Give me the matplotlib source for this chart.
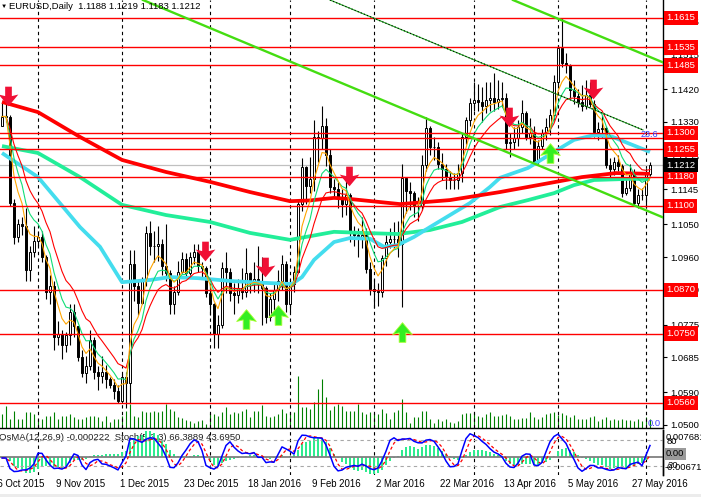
import numpy as np
import pandas as pd
import matplotlib
matplotlib.use("Agg")
import matplotlib.pyplot as plt
from matplotlib.path import Path
from matplotlib.patches import Rectangle

plt.rcParams['font.family'] = ['Liberation Sans', 'DejaVu Sans']

# EURUSD daily bars, 20 Oct 2015 .. 2 Jun 2016 (one value per bar)
first_open = 1.1320
closes = [
    1.1345, 1.1345, 1.1108, 1.1015, 1.1050, 1.1045, 1.0925, 1.0975, 1.1005, 1.1015,
    1.0960, 1.0865, 1.0880, 1.0740, 1.0750, 1.0720, 1.0745, 1.0810, 1.0770, 1.0685,
    1.0642, 1.0660, 1.0733, 1.0645, 1.0633, 1.0645, 1.0625, 1.0610, 1.0593, 1.0565,
    1.0630, 1.0615, 1.0940, 1.0880, 1.0835, 1.0895, 1.1025, 1.0990, 1.0990, 1.0995,
    1.0935, 1.0915, 1.0830, 1.0865, 1.0920, 1.0955, 1.0915, 1.0960, 1.0975, 1.0935,
    1.0930, 1.0860, 1.0830, 1.0750, 1.0775, 1.0930, 1.0920, 1.0860, 1.0855, 1.0875,
    1.0865, 1.0915, 1.0890, 1.0900, 1.0885, 1.0875, 1.0795, 1.0845, 1.0870, 1.0895,
    1.0940, 1.0832, 1.0885, 1.0920, 1.1105, 1.1207, 1.1155, 1.1175, 1.1290, 1.1285,
    1.1320, 1.1240, 1.1152, 1.1145, 1.1125, 1.1105, 1.1130, 1.1025, 1.1020, 1.1015,
    1.1020, 1.0928, 1.0872, 1.0868, 1.0865, 1.0957, 1.1000, 1.1010, 1.1008, 1.0997,
    1.1177, 1.1140, 1.1135, 1.1100, 1.1100, 1.1212, 1.1314, 1.1262, 1.1262, 1.1215,
    1.1200, 1.1180, 1.1170, 1.1170, 1.1190, 1.1289, 1.1335, 1.1382, 1.1390, 1.1385,
    1.1375, 1.1390, 1.1395, 1.1385, 1.1392, 1.1395, 1.1272, 1.1275, 1.1285, 1.1317,
    1.1355, 1.1289, 1.1300, 1.1220, 1.1265, 1.1300, 1.1315, 1.1349, 1.1440, 1.1533,
    1.1492, 1.1485, 1.1418, 1.1400, 1.1385, 1.1375, 1.1405, 1.1380, 1.1303, 1.1310,
    1.1313, 1.1212, 1.1200, 1.1220, 1.1210, 1.1135, 1.1150, 1.1190, 1.1108, 1.1130,
    1.1130, 1.1188, 1.1212,
]
highs = [
    1.1385, 1.1380, 1.1350, 1.1120, 1.1065, 1.1070, 1.1095, 1.0990, 1.1045, 1.1030,
    1.1030, 1.0965, 1.0910, 1.0895, 1.0785, 1.0760, 1.0755, 1.0830, 1.0830, 1.0715,
    1.0705, 1.0690, 1.0760, 1.0740, 1.0660, 1.0690, 1.0665, 1.0630, 1.0625, 1.0610,
    1.0640, 1.0645, 1.0980, 1.0980, 1.0895, 1.0905, 1.1045, 1.1060, 1.1030, 1.1045,
    1.1010, 1.1050, 1.0925, 1.0880, 1.0950, 1.0975, 1.0970, 1.0975, 1.0995, 1.0995,
    1.0945, 1.0935, 1.0890, 1.0835, 1.0800, 1.0945, 1.0975, 1.0930, 1.0890, 1.0900,
    1.0930, 1.0985, 1.0920, 1.0945, 1.0990, 1.0960, 1.0880, 1.0860, 1.0890, 1.0925,
    1.0965, 1.0950, 1.0900, 1.0935, 1.1115, 1.1230, 1.1210, 1.1235, 1.1335, 1.1305,
    1.1375, 1.1340, 1.1255, 1.1175, 1.1165, 1.1145, 1.1170, 1.1135, 1.1045, 1.1040,
    1.1070, 1.1040, 1.0945, 1.0900, 1.0890, 1.0965, 1.1020, 1.1040, 1.1055, 1.1060,
    1.1215, 1.1180, 1.1165, 1.1140, 1.1125, 1.1240, 1.1345, 1.1320, 1.1290, 1.1275,
    1.1245, 1.1215, 1.1195, 1.1190, 1.1215, 1.1300, 1.1345, 1.1395, 1.1440, 1.1435,
    1.1425, 1.1440, 1.1440, 1.1465, 1.1445, 1.1440, 1.1410, 1.1300, 1.1315, 1.1335,
    1.1390, 1.1360, 1.1340, 1.1320, 1.1280, 1.1310, 1.1340, 1.1365, 1.1460, 1.1540,
    1.1615, 1.1520, 1.1490, 1.1445, 1.1420, 1.1430, 1.1445, 1.1440, 1.1390, 1.1330,
    1.1350, 1.1320, 1.1230, 1.1235, 1.1240, 1.1215, 1.1175, 1.1215, 1.1200, 1.1145,
    1.1150, 1.1205, 1.1219,
]
lows = [
    1.1320, 1.1330, 1.1100, 1.0995, 1.1000, 1.1020, 1.0895, 1.0895, 1.0960, 1.0990,
    1.0945, 1.0845, 1.0830, 1.0705, 1.0720, 1.0680, 1.0700, 1.0720, 1.0740, 1.0675,
    1.0630, 1.0615, 1.0650, 1.0625, 1.0595, 1.0615, 1.0600, 1.0600, 1.0570, 1.0560,
    1.0560, 1.0545, 1.0560, 1.0840, 1.0800, 1.0830, 1.0880, 1.0965, 1.0945, 1.0950,
    1.0910, 1.0895, 1.0805, 1.0805, 1.0855, 1.0915, 1.0905, 1.0910, 1.0940, 1.0920,
    1.0900, 1.0850, 1.0800, 1.0710, 1.0710, 1.0765, 1.0860, 1.0840, 1.0805, 1.0835,
    1.0845, 1.0850, 1.0860, 1.0865, 1.0860, 1.0775, 1.0780, 1.0785, 1.0815, 1.0840,
    1.0870, 1.0810, 1.0810, 1.0865, 1.0915, 1.1085, 1.1105, 1.1135, 1.1140, 1.1220,
    1.1255, 1.1210, 1.1135, 1.1125, 1.1095, 1.1070, 1.1075, 1.1000, 1.0990, 1.0960,
    1.0985, 1.0915, 1.0855, 1.0820, 1.0825, 1.0850, 1.0935, 1.0985, 1.0985, 1.0960,
    1.0823, 1.1080, 1.1090, 1.1070, 1.1060, 1.1090, 1.1195, 1.1240, 1.1225, 1.1200,
    1.1170, 1.1145, 1.1145, 1.1145, 1.1145, 1.1165, 1.1270, 1.1320, 1.1360, 1.1360,
    1.1330, 1.1355, 1.1360, 1.1360, 1.1365, 1.1370, 1.1255, 1.1235, 1.1255, 1.1265,
    1.1300, 1.1280, 1.1270, 1.1215, 1.1215, 1.1255, 1.1280, 1.1295, 1.1335, 1.1430,
    1.1480, 1.1465, 1.1395, 1.1380, 1.1370, 1.1360, 1.1365, 1.1370, 1.1290, 1.1280,
    1.1285, 1.1205, 1.1180, 1.1185, 1.1195, 1.1125, 1.1130, 1.1140, 1.1100, 1.1095,
    1.1115, 1.1095, 1.1183,
]
volumes = [
    14, 22, 9, 17, 9, 9, 16, 16, 14, 9,
    9, 12, 12, 16, 9, 12, 12, 14, 11, 9,
    9, 11, 12, 12, 11, 7, 12, 6, 9, 9,
    12, 17, 24, 12, 11, 17, 16, 16, 17, 16,
    17, 24, 19, 17, 11, 10, 8, 7, 5, 7,
    8, 4, 15, 14, 12, 16, 21, 14, 16, 15,
    17, 19, 11, 17, 17, 23, 12, 11, 12, 14,
    19, 15, 16, 16, 52, 21, 21, 19, 26, 39,
    49, 31, 18, 22, 24, 22, 17, 17, 17, 24,
    16, 14, 16, 15, 14, 19, 15, 9, 16, 18,
    29, 16, 5, 11, 11, 17, 17, 9, 5, 9,
    7, 9, 6, 5, 7, 14, 15, 15, 16, 12,
    11, 14, 16, 12, 12, 13, 14, 12, 9, 9,
    10, 10, 16, 11, 9, 11, 14, 15, 16, 13,
    15, 13, 11, 13, 9, 9, 9, 11, 12, 7,
    9, 11, 8, 9, 8, 9, 8, 8, 7, 9,
    7, 11, 9,
]

date_pos = [-2, 14, 30, 46, 62, 78, 94, 110, 126, 142, 158]
date_labels = ["16 Oct 2015", "9 Nov 2015", "1 Dec 2015", "23 Dec 2015", "18 Jan 2016",
               "9 Feb 2016", "2 Mar 2016", "22 Mar 2016", "13 Apr 2016", "5 May 2016",
               "27 May 2016"]
grid_pos = [9, 30, 52, 72, 93, 118, 139, 161]

# long moving averages
ma_red_idx = [0, 9, 19.5, 30, 41, 52, 62, 72, 77, 83, 87, 99.5, 112, 124.5, 137, 145, 153.5, 162]
ma_red = [1.1385, 1.1357, 1.1289, 1.1226, 1.1193, 1.1166, 1.1138, 1.1113, 1.1115, 1.1122,
          1.1119, 1.1105, 1.1116, 1.1138, 1.1163, 1.1179, 1.1190, 1.1188]
ma_cyan_idx = [0, 9, 19.5, 24.5, 30, 37, 42, 49, 57.5, 66, 72.5, 75, 78, 83, 87, 92, 95.5, 99,
               103, 107, 112, 117, 122, 124.5, 131.5, 138, 143, 148, 152.5, 156.5, 162]
ma_cyan = [1.1245, 1.1179, 1.1042, 1.0988, 1.0891, 1.0897, 1.0905, 1.0902, 1.0894, 1.0889,
           1.0886, 1.0905, 1.0952, 1.1001, 1.1012, 1.1010, 1.0988, 1.0993, 1.1015, 1.1042,
           1.1075, 1.1108, 1.1152, 1.1177, 1.1204, 1.1248, 1.1281, 1.1294, 1.1290, 1.1272,
           1.1248]
ma_teal_idx = [0, 9, 19.5, 30, 41, 52, 62, 72, 83, 90, 99, 107, 115, 124.5, 131.5, 138, 143,
               148, 156.5, 162]
ma_teal = [1.1264, 1.1245, 1.1179, 1.1103, 1.1075, 1.1056, 1.1026, 1.1007, 1.1029, 1.1026,
           1.1023, 1.1034, 1.1056, 1.1097, 1.1116, 1.1135, 1.1157, 1.1171, 1.1174, 1.1174]

levels = [1.1615, 1.1535, 1.1485, 1.1300, 1.1255, 1.1180, 1.1100, 1.0870, 1.0750, 1.0560]
fib_level = 1.1285
last_price = 1.1212
price_ticks = [1.0500, 1.0590, 1.0685, 1.0775, 1.0870, 1.0960, 1.1050, 1.1145, 1.1235,
               1.1330, 1.1420, 1.1515, 1.1605]

sell_idx = [1.5, 50.7, 65.7, 86.7, 126.7, 147.7]
sell_px = [1.1401, 1.0976, 1.0933, 1.1182, 1.1344, 1.1420]
buy_idx = [61, 69, 100, 137]
buy_px = [1.0790, 1.0801, 1.0755, 1.1245]

channel = [((35.25, 1.16643), (165.25, 1.10685)),
           ((127.75, 1.16643), (165.25, 1.14933))]
median_line = ((82, 1.16643), (160.25, 1.13081))

# ---------------------------------------------------------------
W, H = 701, 497
def box(x0, y0, x1, y1):
    return [x0 / W, 1 - y1 / H, (x1 - x0) / W, (y1 - y0) / H]

n = len(closes)
idx = np.arange(n)
c = pd.Series(closes)
h = pd.Series(highs)
l = pd.Series(lows)
opens = np.array([first_open] + closes[:-1])
cl = np.array(closes)

fig = plt.figure(figsize=(W / 100, H / 100), dpi=100)
fig.patches.append(Rectangle((0, 0), 1, 3.5 / H, transform=fig.transFigure,
                             fc='#ECECEC', ec='none'))
ax = fig.add_axes(box(0, 0, 663, 428))
sub = fig.add_axes(box(0, 430, 663, 475), sharex=ax)

ax.set_xlim(-0.5, 165.25)
ax.set_ylim(1.04914, 1.16643)

# volumes along the bottom
ax.vlines(idx, 0, np.array(volumes) / 428.0, transform=ax.get_xaxis_transform(),
          color='#008000', lw=0.8, zorder=1)

for g in grid_pos:
    ax.axvline(g, color='black', ls=(0, (3, 3)), lw=0.8, zorder=1)
    sub.axvline(g, color='black', ls=(0, (3, 3)), lw=0.8, zorder=1)

# candles
ax.vlines(idx, lows, highs, color='black', lw=0.8, zorder=3)
body_lo = np.minimum(opens, cl)
body_h = np.maximum(np.abs(cl - opens), 0.00006)
face = ['white' if cc >= oo else 'black' for oo, cc in zip(opens, cl)]
ax.bar(idx, body_h, bottom=body_lo, width=0.72, color=face, edgecolor='black',
       linewidth=0.7, zorder=4)

# moving averages
ax.plot(ma_teal_idx, ma_teal, color='#22EE99', lw=2.7, zorder=5, solid_capstyle='butt')
ax.plot(ma_cyan_idx, ma_cyan, color='#44DDEE', lw=2.7, zorder=5, solid_capstyle='butt')
ax.plot(ma_red_idx, ma_red, color='#FF0000', lw=2.7, zorder=5, solid_capstyle='butt')
ax.plot(idx, c.ewm(span=13, adjust=False).mean(), color='#FF0000', lw=0.8, zorder=5)
ax.plot(idx, c.ewm(span=8, adjust=False).mean(), color='#11DD77', lw=0.8, zorder=5)
ax.plot(idx, c.ewm(span=5, adjust=False).mean(), color='#FFA500', lw=0.8, zorder=5)

# horizontal levels and trend lines
ax.axhline(last_price, color='#C0C0C0', lw=0.9, zorder=2)
for lv in levels + [fib_level]:
    ax.axhline(lv, color='#FF0000', lw=1.0, zorder=6)
for (x0, y0), (x1, y1) in channel:
    ax.plot([x0, x1], [y0, y1], color='#44DD11', lw=1.7, zorder=6)
(mx0, my0), (mx1, my1) = median_line
ax.plot([mx0, mx1], [my0, my1], color='#22AA22', lw=0.8, zorder=6)
ax.plot([mx0, mx1], [my0, my1], color='black', lw=0.8, ls=(0, (1, 2)), zorder=6)
ax.text(159.7, 1.1297, '23.6', color='#3344FF', fontsize=6.5, va='center', zorder=7)

# signal arrows
down = Path([(-0.17, 0.5), (0.17, 0.5), (0.17, 0.02), (0.5, 0.1), (0.0, -0.5),
             (-0.5, 0.1), (-0.17, 0.02), (-0.17, 0.5)],
            [Path.MOVETO] + [Path.LINETO] * 6 + [Path.CLOSEPOLY])
up = Path([(x, -y) for x, y in down.vertices], down.codes)
ax.scatter(sell_idx, sell_px, marker=down, s=200, c='#F01035', linewidths=0, zorder=8)
ax.scatter(buy_idx, buy_px, marker=up, s=200, c='#33EE22', edgecolors='#AAFF33',
           linewidths=0.6, zorder=8)

# right price scale
ax.yaxis.tick_right()
ax.set_yticks(price_ticks)
ax.set_yticklabels([f'{t:.4f}' for t in price_ticks])
ax.tick_params(axis='y', length=3, width=0.8, pad=2, labelsize=6.8, direction='out')
ax.tick_params(axis='x', bottom=False, labelbottom=False)
for side in ['top', 'left']:
    ax.spines[side].set_visible(False)
ax.spines['right'].set_linewidth(1.0)
ax.spines['bottom'].set_linewidth(1.0)

ytr = ax.get_yaxis_transform()
for lv in levels:
    ax.text(1.0 + 3.5 / 663, lv, f'{lv:.4f}', transform=ytr, color='white', fontsize=6.8,
            va='center', ha='left', clip_on=False, zorder=9,
            bbox=dict(boxstyle='square,pad=0.3', fc='#FF0000', ec='none'))
ax.text(1.0 + 3.5 / 663, last_price, f'{last_price:.4f}', transform=ytr, color='white',
        fontsize=6.8, va='center', ha='left', clip_on=False, zorder=9,
        bbox=dict(boxstyle='square,pad=0.3', fc='black', ec='none'))
ax.text(161.5, 1.05051, '0.0', color='#4444FF', fontsize=6.8, va='center', zorder=7)

# OsMA + stochastic sub window
ema12 = c.ewm(span=12, adjust=False).mean()
ema26 = c.ewm(span=26, adjust=False).mean()
macd = ema12 - ema26
osma = macd - macd.rolling(9, min_periods=1).mean()
ll = l.rolling(5, min_periods=1).min()
hh = h.rolling(5, min_periods=1).max()
k = (c - ll).rolling(3, min_periods=1).sum() / (hh - ll).rolling(3, min_periods=1).sum() * 100
d = k.rolling(3, min_periods=1).mean()

sub.bar(idx, osma, width=0.72, color='#2EEB8F', zorder=2)
lo, hi = osma.min(), osma.max()
pad = (hi - lo) * 0.025
sub.set_ylim(lo - pad, hi + pad)
sub.axhline(0, color='#808080', lw=1.3, zorder=3)
sub.text(-1 / W, 1 - 438 / H, 'OsMA(12,26,9) -0.000222  Stoch(5,3,3) 66.3889 43.6950',
         transform=fig.transFigure, fontsize=6.8, color='#202020', va='center', zorder=1)
st = sub.twinx()
st.set_ylim(-0.8, 103.1)
st.axhline(80, color='#A8A8A8', lw=0.8, ls=(0, (3, 3)))
st.axhline(20, color='#A8A8A8', lw=0.8, ls=(0, (3, 3)))
st.plot(idx, d, color='#FF0000', lw=0.9, ls=(0, (2.5, 2)))
st.plot(idx, k, color='#0000FF', lw=1.1)
for a in (sub, st):
    a.set_yticks([])
    a.tick_params(axis='x', bottom=False, labelbottom=False)
    for side in ['top', 'left', 'bottom']:
        a.spines[side].set_visible(False)
    a.spines['right'].set_linewidth(1.0)

fs = 6.8
fig.text(666 / W, 1 - 437 / H, '0.007681', fontsize=fs, va='center')
fig.text(667 / W, 1 - 441 / H, '80', fontsize=fs, va='center')
fig.text(666 / W, 1 - 454 / H, '0.00', fontsize=fs, va='center',
         bbox=dict(boxstyle='square,pad=0.15', fc='#9A9A9A', ec='none'))
fig.text(667 / W, 1 - 466 / H, '20', fontsize=fs, va='center')
fig.text(665 / W, 1 - 468 / H, '-0.006710', fontsize=fs, va='center')

# header and time axis
fig.text(1 / W, 1 - 6 / H, '\u25bc', fontsize=4.5, va='center')
fig.text(9 / W, 1 - 6.5 / H, 'EURUSD,Daily  1.1188 1.1219 1.1183 1.1212', fontsize=6.8,
         va='center')
for p, lab in zip(date_pos, date_labels):
    fig.text((4 * p) / W, 1 - 484 / H, lab, fontsize=6.9, va='center', ha='left')

fig.savefig('out.png', dpi=100)
